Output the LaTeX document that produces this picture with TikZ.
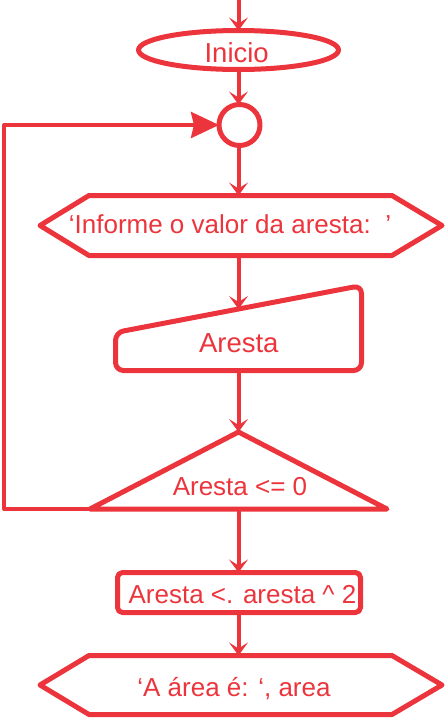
\documentclass[tikz,border=0pt]{standalone}
\usepackage{fontspec}
\setmainfont{Liberation Sans}
\usetikzlibrary{arrows.meta,shapes.geometric}
\definecolor{fred}{RGB}{236,52,60}
\begin{document}
\begin{tikzpicture}[x=1pt,y=-1pt,line join=round,
  shp/.style={draw=fred,line width=5pt},
  box/.style={inner sep=0pt,outer sep=0pt},
  conn/.style={draw=fred,line width=4pt,-{Stealth[length=13pt,width=19pt,inset=6pt]}},
  loopconn/.style={draw=fred,line width=4pt,-{Stealth[length=28pt,width=26pt,inset=3pt]}},
  txt/.style={text=fred,font=\fontsize{26}{30}\selectfont,inner sep=0pt,anchor=base},
  bigtxt/.style={txt,font=\fontsize{27.5}{32}\selectfont}]
\useasboundingbox (0,0) rectangle (447,720);
% shapes
\coordinate (top) at (238.5,-5);
\node[shp,ellipse,box,minimum width=200pt,minimum height=39pt] (ini) at (238.5,50) {};
\node[shp,circle,box,minimum size=41pt] (con) at (239.5,125) {};
\node[box,minimum width=402pt,minimum height=60pt] (h1) at (241,225.5) {};
\draw[shp] (h1.west) -- ([xshift=49pt]h1.north west) -- ([xshift=-50pt]h1.north east)
  -- (h1.east) -- ([xshift=-50pt]h1.south east) -- ([xshift=49pt]h1.south west) -- cycle;
\node[box,minimum width=246pt,minimum height=85pt] (inp) at (238.5,328) {};
\draw[shp,rounded corners=8pt] (inp.south west |- 0,332.5) -- (inp.north east) -- (inp.south east)
  -- (inp.south west) -- cycle;
\coordinate (inptop) at (238.5,309);
\node[box,minimum width=297pt,minimum height=77pt] (dec) at (238.5,470.5) {};
\draw[shp] (dec.north) -- (dec.south east) -- (dec.south west) -- cycle;
\node[shp,box,rounded corners=5pt,minimum width=243pt,minimum height=40pt] (calc) at (239,592.5) {};
\node[box,minimum width=402pt,minimum height=59pt] (h2) at (241,685) {};
\draw[shp] (h2.west) -- ([xshift=49pt]h2.north west) -- ([xshift=-50pt]h2.north east)
  -- (h2.east) -- ([xshift=-50pt]h2.south east) -- ([xshift=49pt]h2.south west) -- cycle;
% texts
\node[bigtxt] (tini) at (236.7,62.7) {Inicio};
\node[txt] (th1) at (230,233) {‘Informe o valor da aresta:\ \ ’};
\node[bigtxt] (tinp) at (238.8,352.7) {Aresta};
\node[txt] (tdec) at (240,495) {Aresta <= 0};
\node[txt] (tcalc) at (242.5,603.3) {Aresta <. aresta \^{} 2};
\node[txt] (th2) at (234,696) {‘A área é: ‘, area};
% connectors
\draw[conn] (top) -- (ini.north);
\draw[conn] (ini.south) -- (ini.south |- con.north);
\draw[conn] (ini.south |- con.south) -- (ini.south |- h1.north);
\draw[conn] (ini.south |- h1.south) -- (inptop);
\draw[conn] (inp.south) -- (dec.north);
\draw[conn] (dec.south) -- (dec.south |- calc.north);
\draw[conn] (dec.south |- calc.south) -- (dec.south |- h2.north);
\coordinate (lp) at (4,509);
\draw[loopconn] (dec.south west) -- (lp) |- (con.west);
\end{tikzpicture}
\end{document}
